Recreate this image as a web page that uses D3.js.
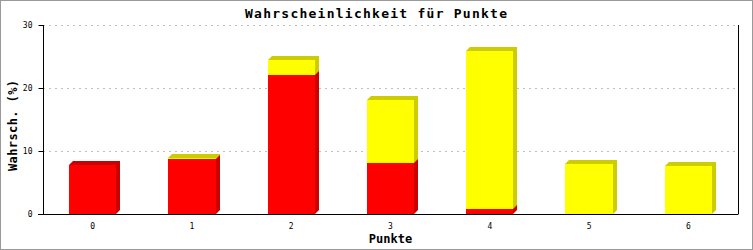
<!DOCTYPE html>
<html>
<head>
<meta charset="utf-8">
<script src="https://cdn.jsdelivr.net/npm/d3@7/dist/d3.min.js"></script>
<style>
  body { margin: 0; background: #fff; }
  svg { display: block; }
  text { font-family: "DejaVu Sans Mono", "Liberation Mono", monospace; fill: #000; }
</style>
</head>
<body>
<svg id="chart" width="753" height="250"></svg>
<script>
var categories = ['0', '1', '2', '3', '4', '5', '6'];
var redValues = [7.7, 8.8, 22.0, 8.1, 0.8, 0, 0];
var yellowValues = [0, 0.05, 2.5, 10.0, 25.0, 8.0, 7.6];
var yTicks = [0, 10, 20, 30];

var W = 753, H = 250;
var margin = {left: 43, right: 15, top: 25, bottom: 36};
var depth = 4;

var svg = d3.select('#chart');

// outer frame
svg.append('rect')
	.attr('x', 0.5).attr('y', 0.5)
	.attr('width', W - 1).attr('height', H - 1)
	.attr('fill', '#fff')
	.attr('stroke', '#999');

var x = d3.scaleBand()
	.domain(categories)
	.range([margin.left, W - margin.right])
	.paddingInner(0.525)
	.paddingOuter(0.2625);

var y = d3.scaleLinear()
	.domain([0, 30])
	.range([H - margin.bottom, margin.top]);

// gridlines
svg.append('g').selectAll('line')
	.data(yTicks.filter(function(d){ return d > 0; }))
	.enter().append('line')
	.attr('x1', margin.left).attr('x2', W - margin.right)
	.attr('y1', function(d){ return Math.round(y(d)) + 0.5; })
	.attr('y2', function(d){ return Math.round(y(d)) + 0.5; })
	.attr('stroke', '#c0c0c0')
	.attr('stroke-dasharray', '2,4');

function drawSegment(g, cat, v0, v1, face, shade){
	if (v1 - v0 <= 0) return;
	var x0 = Math.round(x(cat)), x1 = Math.round(x(cat) + x.bandwidth());
	var yTop = Math.round(y(v1)), yBot = Math.round(y(v0));
	var pts = [[x0, yTop], [x0 + depth, yTop - depth], [x1 + depth, yTop - depth],
		[x1 + depth, yBot - depth], [x1, yBot], [x1, yTop]];
	g.append('polygon')
		.attr('points', pts.map(function(p){ return p.join(','); }).join(' '))
		.attr('fill', shade);
	g.append('rect')
		.attr('x', x0).attr('y', yTop)
		.attr('width', x1 - x0).attr('height', Math.max(yBot - yTop, 0))
		.attr('fill', face);
}

var bars = svg.append('g');
categories.forEach(function(cat, i){
	var r = redValues[i], ye = yellowValues[i];
	drawSegment(bars, cat, 0, r, '#ff0000', '#cc0000');
	drawSegment(bars, cat, r, r + ye, '#ffff00', '#cccc00');
});

// axes
var yAxis = d3.axisLeft(y).tickValues(yTicks).tickSize(5).tickPadding(6);
var gy = svg.append('g')
	.attr('transform', 'translate(' + (margin.left + 0.5) + ',0)')
	.call(yAxis);
gy.select('.domain').attr('d', 'M0,' + y(30) + 'V' + (y(0) + 0.5)).attr('stroke', '#000');
gy.selectAll('.tick line').attr('stroke', '#000');
gy.selectAll('.tick text').attr('font-size', '8px').attr('fill', '#000')
	.style('font-family', '"DejaVu Sans Mono", monospace');

var xAxis = d3.axisBottom(x).tickSize(0).tickPadding(9);
var gx = svg.append('g')
	.attr('transform', 'translate(0,' + (Math.round(y(0)) + 0.5) + ')')
	.call(xAxis);
gx.select('.domain').attr('d', 'M' + (margin.left - 5) + ',0H' + (W - margin.right + 0.5)).attr('stroke', '#000');
gx.selectAll('.tick text').attr('font-size', '8px').attr('fill', '#000')
	.style('font-family', '"DejaVu Sans Mono", monospace');

// right border of plot
svg.append('line')
	.attr('x1', W - margin.right + 0.5).attr('x2', W - margin.right + 0.5)
	.attr('y1', y(30)).attr('y2', y(0))
	.attr('stroke', '#000');

// titles
svg.append('text')
	.attr('x', 376).attr('y', 18)
	.attr('text-anchor', 'middle')
	.attr('font-size', '13px').attr('font-weight', 'bold')
	.attr('textLength', 262).attr('lengthAdjust', 'spacing')
	.text('Wahrscheinlichkeit für Punkte');

svg.append('text')
	.attr('x', (margin.left + W - margin.right) / 2).attr('y', 243)
	.attr('text-anchor', 'middle')
	.attr('font-size', '12px').attr('font-weight', 'bold')
	.text('Punkte');

svg.append('text')
	.attr('transform', 'translate(17,125.5) rotate(-90)')
	.attr('text-anchor', 'middle')
	.attr('font-size', '12px').attr('font-weight', 'bold')
	.attr('textLength', 91).attr('lengthAdjust', 'spacing')
	.text('Wahrsch. (%)');
</script>
</body>
</html>
